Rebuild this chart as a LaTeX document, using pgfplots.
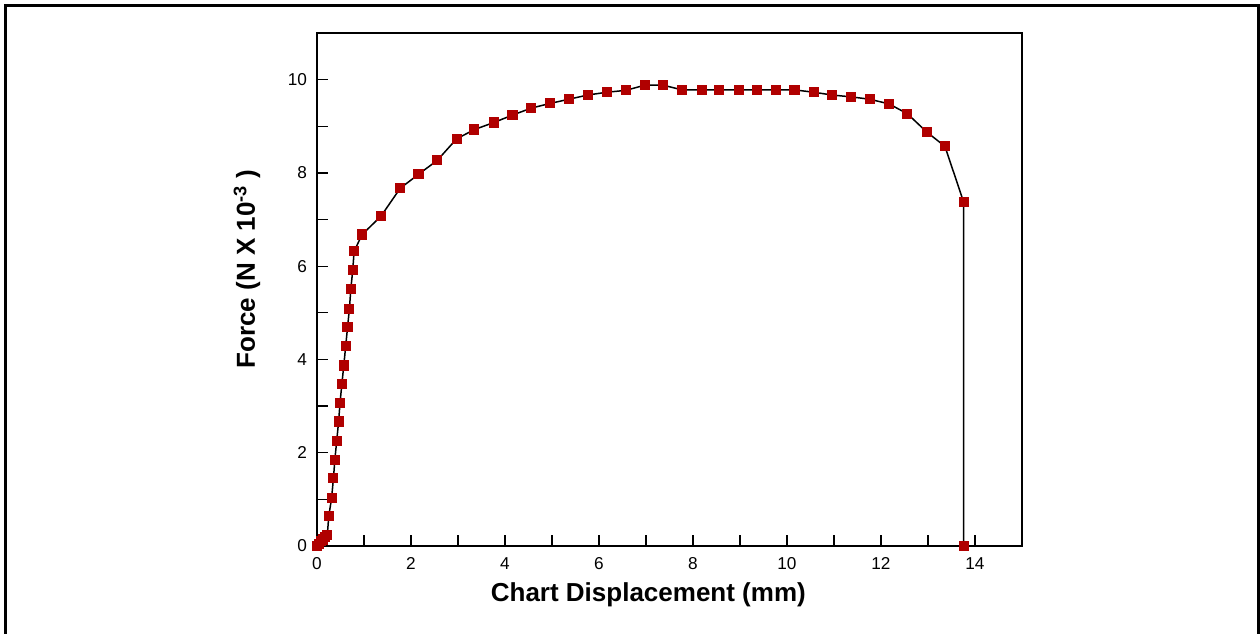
\documentclass[border=0pt]{standalone}
\usepackage{fontspec}
\setmainfont{Liberation Sans}
\usepackage{pgfplots}
\pgfplotsset{compat=1.18}
\definecolor{markred}{RGB}{176,0,0}

\begin{document}
\begin{tikzpicture}
\useasboundingbox (-158.5pt,-43.5pt) rectangle (471.5pt,273pt);
\draw[line width=1.5pt] (-155.5pt,-44pt) -- (-155.5pt,270pt) -- (470.8pt,270pt) -- (470.8pt,-44pt);
\begin{axis}[
    scale only axis,
    width=352.5pt,
    height=256.5pt,
    xmin=0, xmax=15,
    ymin=0, ymax=11,
    xtick={0,2,...,14},
    ytick={0,2,...,10},
    minor x tick num=1,
    minor y tick num=1,
    xtick pos=left, ytick pos=left,
    tick align=inside,
    major tick length=5.5pt,
    minor tick length=5.5pt,
    every tick/.style={black, line width=0.65pt},
    axis line style={line width=0.8pt},
    tick label style={font=\fontsize{8.6}{10}\selectfont},
    xticklabel style={yshift=-2pt, text height=6.2pt},
    yticklabel style={xshift=-1.5pt},
    /pgf/number format/assume math mode=true,
    xlabel={Chart Displacement (mm)},
    ylabel={Force (N X 10\textsuperscript{-3} )},
    label style={font=\fontsize{13}{15}\selectfont\bfseries},
    xlabel style={at={(axis description cs:0.47,-0.0955)}, anchor=center},
    ylabel style={at={(axis description cs:-0.0993,0.54)}, anchor=center},
    clip=false,
]
\addplot[black, line width=0.75pt, mark=square*, mark size=2.15pt,
    mark options={fill=markred, draw=markred}] coordinates {
    (0,0) (0.04,0.05) (0.08,0.10) (0.12,0.14) (0.17,0.19) (0.22,0.24)
    (0.25,0.64) (0.31,1.02) (0.35,1.45) (0.38,1.85) (0.42,2.26)
    (0.46,2.67) (0.49,3.07) (0.53,3.48) (0.57,3.87) (0.61,4.28)
    (0.65,4.69) (0.69,5.09) (0.72,5.51) (0.76,5.91) (0.79,6.32)
    (0.96,6.68) (1.36,7.07) (1.77,7.67) (2.16,7.97) (2.56,8.27)
    (2.97,8.73) (3.35,8.93) (3.76,9.08) (4.16,9.24) (4.56,9.39)
    (4.96,9.49) (5.36,9.58) (5.76,9.67) (6.17,9.73) (6.57,9.77)
    (6.97,9.88) (7.37,9.88) (7.77,9.78) (8.19,9.78) (8.56,9.78)
    (8.97,9.78) (9.37,9.78) (9.77,9.78) (10.16,9.78) (10.57,9.73)
    (10.96,9.67) (11.37,9.63) (11.76,9.58) (12.17,9.48) (12.56,9.27)
    (12.97,8.88) (13.36,8.57) (13.76,7.37) (13.76,0)
};
\end{axis}
\end{tikzpicture}
\end{document}
